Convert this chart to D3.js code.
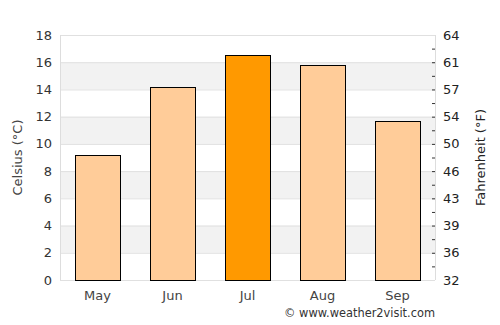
<!DOCTYPE html>
<html>
<head>
<meta charset="utf-8">
<script src="https://cdn.jsdelivr.net/npm/d3@7"></script>
<style>
  body { margin: 0; background: #fff; }
  text { font-family: 'DejaVu Sans', sans-serif; }
</style>
</head>
<body>
<div id="chart"></div>
<script>
// data
const months = ['May', 'Jun', 'Jul', 'Aug', 'Sep'];
const celsius = [9.2, 14.2, 16.5, 15.8, 11.7];
const highlight = ['Jul'];
const cTicks = [0, 2, 4, 6, 8, 10, 12, 14, 16, 18];
const fLabels = ['32', '36', '39', '43', '46', '50', '54', '57', '61', '64'];

const W = 500;
const H = 325;
const margin = { top: 35, right: 65, bottom: 45, left: 60 };
const width = W - margin.left - margin.right;
const height = H - margin.top - margin.bottom;

const svg = d3
  .select('#chart')
  .append('svg')
  .attr('width', W)
  .attr('height', H);

const g = svg
  .append('g')
  .attr('transform', `translate(${margin.left}, ${margin.top})`);

const xScale = d3.scaleBand().domain(months).range([0, width]).paddingInner(0.4).paddingOuter(0.2);
const yScale = d3.scaleLinear().domain([0, 18]).range([height, 0]);

// alternating bands
const bands = cTicks.slice(0, -1).filter((d) => (d / 2) % 2 === 1);
g.selectAll('.band')
  .data(bands)
  .join('rect')
  .attr('class', 'band')
  .attr('x', 0)
  .attr('width', width)
  .attr('y', (d) => yScale(d + 2))
  .attr('height', (d) => yScale(d) - yScale(d + 2))
  .style('fill', '#f2f2f2');

// gridlines
g.selectAll('.grid')
  .data(cTicks)
  .join('line')
  .attr('class', 'grid')
  .attr('x1', 0)
  .attr('x2', width)
  .attr('y1', (d) => yScale(d) + 0.5)
  .attr('y2', (d) => yScale(d) + 0.5)
  .style('stroke', '#e0e0e0');

// axis frame lines
g.append('line')
  .attr('x1', 0.5).attr('x2', 0.5)
  .attr('y1', 0).attr('y2', height)
  .style('stroke', '#dddddd');
g.append('line')
  .attr('x1', width + 0.5).attr('x2', width + 0.5)
  .attr('y1', 0).attr('y2', height)
  .style('stroke', '#dddddd');

// right side minor ticks
const minor = d3.range(1, 18);
g.selectAll('.rtick')
  .data(minor)
  .join('line')
  .attr('class', 'rtick')
  .attr('x1', width - 3)
  .attr('x2', width)
  .attr('y1', (d) => yScale(d) + 0.5)
  .attr('y2', (d) => yScale(d) + 0.5)
  .style('stroke', '#333');

// bars
g.selectAll('.bar')
  .data(months)
  .join('rect')
  .attr('class', 'bar')
  .attr('x', (d) => Math.round(xScale(d)) + 0.5)
  .attr('width', Math.round(xScale.bandwidth()))
  .attr('y', (d, i) => Math.round(yScale(celsius[i])) + 0.5)
  .attr('height', (d, i) => height - Math.round(yScale(celsius[i])))
  .style('fill', (d) => (highlight.includes(d) ? '#ff9900' : '#ffcc99'))
  .style('stroke', '#000')
  .style('stroke-width', 1);

// left tick labels
g.selectAll('.ylab')
  .data(cTicks)
  .join('text')
  .attr('class', 'ylab')
  .attr('x', -8)
  .attr('y', (d) => yScale(d))
  .attr('dy', '0.35em')
  .attr('text-anchor', 'end')
  .style('font-size', '13px')
  .style('fill', '#333')
  .text((d) => d);

// right tick labels
g.selectAll('.flab')
  .data(cTicks)
  .join('text')
  .attr('class', 'flab')
  .attr('x', width + 8)
  .attr('y', (d) => yScale(d))
  .attr('dy', '0.35em')
  .attr('text-anchor', 'start')
  .style('font-size', '13px')
  .style('fill', '#222')
  .text((d, i) => fLabels[i]);

// x labels
g.selectAll('.xlab')
  .data(months)
  .join('text')
  .attr('class', 'xlab')
  .attr('x', (d) => xScale(d) + xScale.bandwidth() / 2)
  .attr('y', height + 20)
  .attr('text-anchor', 'middle')
  .style('font-size', '13px')
  .style('fill', '#444')
  .text((d) => d);

// axis titles
svg.append('text')
  .attr('transform', `translate(22, ${margin.top + height / 2}) rotate(-90)`)
  .attr('text-anchor', 'middle')
  .style('font-size', '13px')
  .style('fill', '#444')
  .text('Celsius (°C)');

svg.append('text')
  .attr('transform', `translate(485, ${margin.top + height / 2}) rotate(-90)`)
  .attr('text-anchor', 'middle')
  .style('font-size', '13px')
  .style('fill', '#222')
  .text('Fahrenheit (°F)');

// credit
svg.append('text')
  .attr('x', margin.left + width)
  .attr('y', 317)
  .attr('text-anchor', 'end')
  .style('font-size', '11.4px')
  .style('fill', '#333')
  .text('© www.weather2visit.com');
</script>
</body>
</html>
